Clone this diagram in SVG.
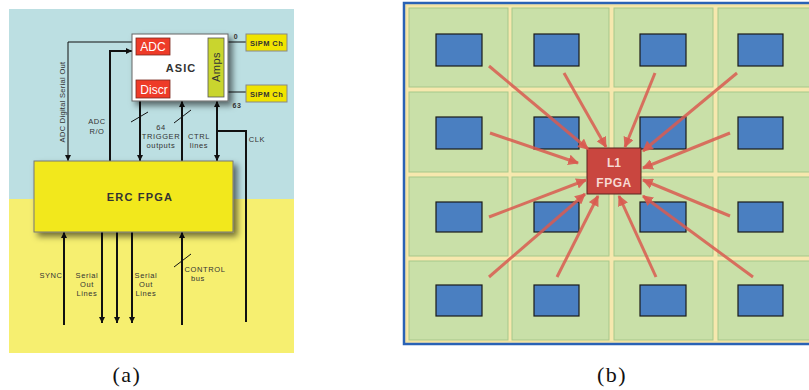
<svg xmlns="http://www.w3.org/2000/svg" width="809" height="390" viewBox="0 0 809 390">
<defs>
<style>
.t{font-family:"Liberation Sans",Arial,sans-serif;fill:#333;}
.s{font-size:7.5px;letter-spacing:0.6px;}
.ln{stroke:#111;fill:none;stroke-width:1;}
.th{stroke:#111;fill:none;stroke-width:2;}
.cell{fill:#c9e0a8;stroke:#a6c78a;stroke-width:1;}
.chip{fill:#4a7fc1;stroke:#1a1a1a;stroke-width:1.2;}
.ra{stroke:#d95a50;stroke-width:3;fill:none;stroke-opacity:0.85;marker-end:url(#rh);}
.cap{font-family:"Liberation Serif","Times New Roman",serif;font-size:22px;fill:#111;text-anchor:middle;letter-spacing:1.5px;}
</style>
<marker id="ah" viewBox="0 0 10 10" refX="10" refY="5" markerWidth="6" markerHeight="6" markerUnits="userSpaceOnUse" orient="auto-start-reverse"><path d="M0,0 L10,5 L0,10 z" fill="#111"/></marker>
<marker id="rh" viewBox="0 0 10 10" refX="9" refY="5" markerWidth="3.6" markerHeight="3.6" orient="auto"><path d="M0,0 L10,5 L0,10 z" fill="#d95a50" fill-opacity="0.9"/></marker>
<filter id="sh" x="-10%" y="-10%" width="130%" height="140%"><feDropShadow dx="4" dy="4" stdDeviation="3" flood-color="#000" flood-opacity="0.55"/></filter>
</defs>
<rect width="809" height="390" fill="#fff"/>

<!-- Panel (a) -->
<g id="panel-a-bg">
<rect x="9" y="9" width="285" height="190" fill="#bcdfe2"/>
<rect x="9" y="199" width="285" height="154" fill="#f6ef70"/>
</g>

<g id="connectors-a">
<path class="ln" d="M132,42 H68 V161" marker-end="url(#ah)"/>
<path class="th" d="M110,161 V51 H132" marker-end="url(#ah)"/>
<path class="th" d="M140,101 V161" marker-end="url(#ah)"/>
<path class="th" d="M182,161 V101" marker-end="url(#ah)"/>
<path class="th" d="M217,161 V101" marker-start="url(#ah)" marker-end="url(#ah)"/>
<path class="th" d="M217,131 H246 V322"/>
<path class="ln" d="M228,42 H246 M228,92 H246" stroke="#444"/>
<path class="ln" d="M131,122 L148,112 M174,123 L191,110 M174,267 L191,254"/>
<path class="th" d="M64,325 V232" marker-end="url(#ah)"/>
<path class="th" d="M102,232 V323" marker-end="url(#ah)"/>
<path class="th" d="M117,232 V323" marker-end="url(#ah)"/>
<path class="th" d="M132,232 V323" marker-end="url(#ah)"/>
<path class="th" d="M182,325 V232" marker-end="url(#ah)"/>
</g>

<g id="asic">
<rect x="132" y="34" width="96" height="67" fill="#fff" stroke="#666" stroke-width="1" filter="url(#sh)"/>
<text class="t" x="181" y="72" font-size="11" font-weight="bold" text-anchor="middle" letter-spacing="1" fill="#111">ASIC</text>
</g>
<g id="adc">
<rect x="136" y="38" width="34" height="17" fill="#ee3b28" stroke="#7a2a20" stroke-width="0.8"/>
<text class="t" x="153" y="51" font-size="12" text-anchor="middle" style="fill:#fff">ADC</text>
</g>
<g id="discr">
<rect x="136" y="80" width="34" height="18" fill="#ee3b28" stroke="#7a2a20" stroke-width="0.8"/>
<text class="t" x="154" y="94" font-size="12" text-anchor="middle" style="fill:#fff">Discr</text>
</g>
<g id="amps">
<rect x="208" y="38" width="16" height="59" fill="#c9d52e" stroke="#555" stroke-width="0.8"/>
<text class="t" transform="translate(220,67) rotate(-90)" font-size="11" text-anchor="middle" letter-spacing="0.5">Amps</text>
</g>
<g id="sipm0">
<rect x="246" y="34" width="41" height="17" fill="#f0e400" stroke="#888" stroke-width="1"/>
<text class="t" x="266.5" y="45.5" font-size="7.5" font-weight="bold" text-anchor="middle" letter-spacing="0.4">SiPM Ch</text>
</g>
<g id="sipm63">
<rect x="246" y="85" width="41" height="17" fill="#f0e400" stroke="#888" stroke-width="1"/>
<text class="t" x="266.5" y="96.5" font-size="7.5" font-weight="bold" text-anchor="middle" letter-spacing="0.4">SiPM Ch</text>
</g>
<g id="fpga">
<rect x="34" y="161" width="199" height="71" fill="#f2e81a" stroke="#777" stroke-width="1" filter="url(#sh)"/>
<text class="t" x="140" y="201" font-size="11" font-weight="bold" text-anchor="middle" letter-spacing="1.2" fill="#222">ERC FPGA</text>
</g>

<g id="labels-a" class="t s" text-anchor="middle">
<text x="236" y="39" font-size="7" font-weight="bold">0</text>
<text x="237" y="108" font-size="7" font-weight="bold">63</text>
<text transform="translate(65,102) rotate(-90)" letter-spacing="0.3">ADC Digital Serial Out</text>
<text x="97" y="124">ADC</text>
<text x="97" y="134">R/O</text>
<text x="161" y="130">64</text>
<text x="161" y="139">TRIGGER</text>
<text x="161" y="148">outputs</text>
<text x="199" y="139">CTRL</text>
<text x="199" y="148">lines</text>
<text x="257" y="142">CLK</text>
<text x="51" y="278">SYNC</text>
<text x="87" y="278">Serial</text>
<text x="87" y="287">Out</text>
<text x="87" y="296">Lines</text>
<text x="146" y="278">Serial</text>
<text x="146" y="287">Out</text>
<text x="146" y="296">Lines</text>
<text x="205" y="272">CONTROL</text>
<text x="198" y="281">bus</text>
</g>

<!-- Panel (b) -->
<g id="frame-b">
<rect x="404" y="3" width="420" height="341" fill="#f6e8ae" stroke="#2a62b5" stroke-width="2.5"/>
<rect x="406.5" y="5.5" width="420" height="336" fill="none" stroke="#f3e3a0" stroke-width="1"/>
</g>
<g id="cells">
<rect class="cell" x="409" y="8" width="99" height="79"/>
<rect class="cell" x="512" y="8" width="97" height="79"/>
<rect class="cell" x="614" y="8" width="99" height="79"/>
<rect class="cell" x="718" y="8" width="99" height="79"/>
<rect class="cell" x="409" y="92" width="99" height="80"/>
<rect class="cell" x="512" y="92" width="97" height="80"/>
<rect class="cell" x="614" y="92" width="99" height="80"/>
<rect class="cell" x="718" y="92" width="99" height="80"/>
<rect class="cell" x="409" y="177" width="99" height="79"/>
<rect class="cell" x="512" y="177" width="97" height="79"/>
<rect class="cell" x="614" y="177" width="99" height="79"/>
<rect class="cell" x="718" y="177" width="99" height="79"/>
<rect class="cell" x="409" y="261" width="99" height="79"/>
<rect class="cell" x="512" y="261" width="97" height="79"/>
<rect class="cell" x="614" y="261" width="99" height="79"/>
<rect class="cell" x="718" y="261" width="99" height="79"/>
</g>
<g id="chips">
<rect class="chip" x="436" y="34" width="46" height="32"/>
<rect class="chip" x="534" y="34" width="45" height="32"/>
<rect class="chip" x="640" y="34" width="46" height="32"/>
<rect class="chip" x="738" y="34" width="45" height="32"/>
<rect class="chip" x="436" y="117" width="46" height="32"/>
<rect class="chip" x="534" y="117" width="45" height="32"/>
<rect class="chip" x="640" y="117" width="46" height="32"/>
<rect class="chip" x="738" y="117" width="45" height="32"/>
<rect class="chip" x="436" y="202" width="46" height="30"/>
<rect class="chip" x="534" y="202" width="45" height="30"/>
<rect class="chip" x="640" y="202" width="46" height="30"/>
<rect class="chip" x="738" y="202" width="45" height="30"/>
<rect class="chip" x="436" y="285" width="46" height="31"/>
<rect class="chip" x="534" y="285" width="45" height="31"/>
<rect class="chip" x="640" y="285" width="46" height="31"/>
<rect class="chip" x="738" y="285" width="45" height="31"/>
</g>
<g id="l1fpga">
<rect x="587" y="148" width="54" height="46" fill="#c9463f" stroke="#5a2420" stroke-width="1"/>
<text class="t" x="614" y="167" font-size="12" font-weight="bold" text-anchor="middle" style="fill:#f7d8d2">L1</text>
<text class="t" x="614" y="187" font-size="12" font-weight="bold" text-anchor="middle" letter-spacing="0.5" style="fill:#f7d8d2">FPGA</text>
</g>
<g id="connectors-b">
<path class="ra" d="M489,66 L588,149"/>
<path class="ra" d="M564,73 L606,147"/>
<path class="ra" d="M655,73 L625,147"/>
<path class="ra" d="M737,73 L643,151"/>
<path class="ra" d="M490,133 L578,163"/>
<path class="ra" d="M730,133 L643,168"/>
<path class="ra" d="M489,217 L586,180"/>
<path class="ra" d="M489,277 L585,194"/>
<path class="ra" d="M557,277 L598,196"/>
<path class="ra" d="M656,277 L619,196"/>
<path class="ra" d="M753,277 L643,196"/>
<path class="ra" d="M730,216 L643,180"/>
</g>

<g id="captions">
<text class="cap" x="127" y="382">(a)</text>
<text class="cap" x="612" y="382">(b)</text>
</g>
</svg>
